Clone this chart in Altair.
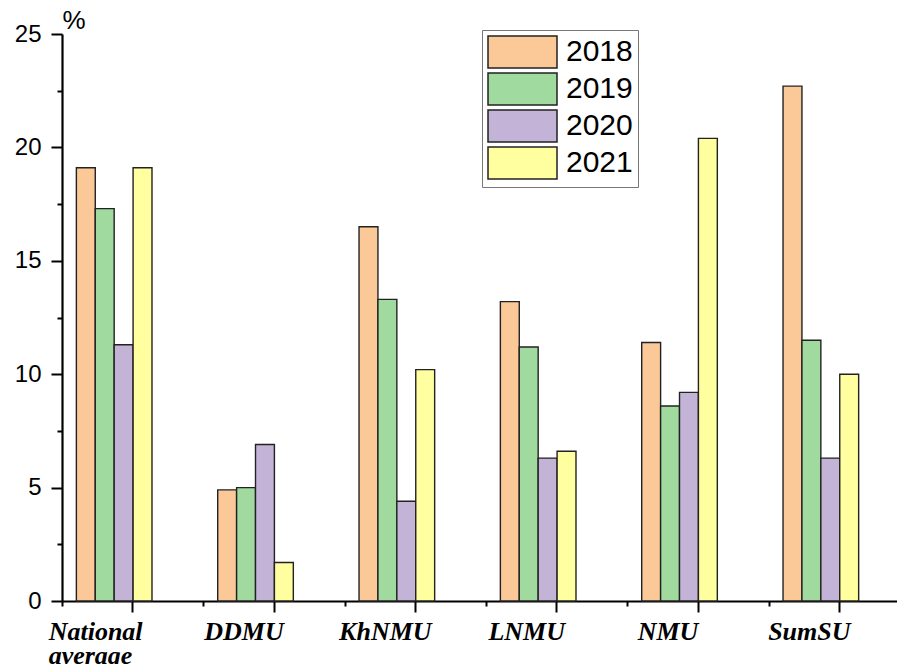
import altair as alt
import pandas as pd

categories = ["National average", "DDMU", "KhNMU", "LNMU", "NMU", "SumSU"]
years = ["2018", "2019", "2020", "2021"]
v2018 = [19.1, 4.9, 16.5, 13.2, 11.4, 22.7]
v2019 = [17.3, 5.0, 13.3, 11.2, 8.6, 11.5]
v2020 = [11.3, 6.9, 4.4, 6.3, 9.2, 6.3]
v2021 = [19.1, 1.7, 10.2, 6.6, 20.4, 10.0]
colors = ["#FBC898", "#A0DA9F", "#C3B3D7", "#FFFFA0"]
y_major = [0, 5, 10, 15, 20, 25]
y_minor = [2.5, 7.5, 12.5, 17.5, 22.5]
offset_slots = years + ["gap1", "gap2"]

rows = []
for yr, vals in zip(years, [v2018, v2019, v2020, v2021]):
    for c, v in zip(categories, vals):
        rows.append({"cat": c, "year": yr, "value": v})
df = pd.DataFrame(rows)

xscale = alt.Scale(domain=categories, range=[0, 848], paddingInner=0, paddingOuter=0)
offscale = alt.Scale(domain=offset_slots, paddingInner=0, paddingOuter=0.738, align=0.515)
yscale = alt.Scale(domain=[0, 25], nice=False)

label_expr = "datum.value == 'National average' ? ['National', 'average'] : datum.value"
is_nat = "datum.value == 'National average'"

bars = alt.Chart(df).mark_bar(stroke="#222222", strokeWidth=1.4).encode(
    x=alt.X("cat:N", sort=categories, scale=xscale, title=None,
            axis=alt.Axis(orient="bottom", labelAngle=0, labelFont="Liberation Serif",
                          labelFontStyle="italic", labelFontWeight="bold", labelFontSize=26,
                          labelColor="black", labelPadding=6,
                          labelOffset={"condition": {"test": is_nat, "value": -84}, "value": -30},
                          labelAlign={"condition": {"test": is_nat, "value": "left"}, "value": "center"},
                          labelLineHeight=24, labelExpr=label_expr,
                          tickSize=11, tickWidth=2, tickColor="black",
                          domainColor="black", domainWidth=2.2, grid=False)),
    xOffset=alt.XOffset("year:N", scale=offscale),
    y=alt.Y("value:Q", scale=yscale,
            axis=alt.Axis(orient="left", values=y_major, title="%", titleAngle=0,
                          titleX=0, titleY=-6, titleAlign="left", titleBaseline="alphabetic",
                          titleFont="Liberation Sans", titleFontSize=26, titleFontWeight="normal",
                          titleColor="black",
                          labelFont="Liberation Sans", labelFontSize=24, labelColor="black",
                          labelPadding=10, tickSize=11, tickWidth=2, tickColor="black",
                          domainColor="black", domainWidth=2.2, grid=False)),
    color=alt.Color("year:N", sort=years, scale=alt.Scale(domain=years, range=colors),
                    legend=alt.Legend(title=None, orient="none", legendX=420, legendY=-4,
                                      symbolType="M-1,-1H3.3125V1H-1Z", symbolSize=1024,
                                      symbolStrokeColor="#222", symbolStrokeWidth=1.5,
                                      symbolOpacity=1,
                                      labelFont="Liberation Sans", labelFontSize=30,
                                      labelColor="black", labelOffset=45,
                                      rowPadding=-1, padding=5,
                                      strokeColor="#777", fillColor="white")),
)

minor = alt.Chart(df).mark_bar(opacity=0).encode(
    x=alt.X("cat:N", sort=categories, scale=xscale, title=None,
            axis=alt.Axis(orient="bottom", labels=False, domain=False, tickBand="extent",
                          tickSize=5, tickWidth=2, tickColor="black", grid=False)),
    xOffset=alt.XOffset("year:N", scale=offscale),
    y=alt.Y("value:Q", scale=yscale,
            axis=alt.Axis(orient="left", values=y_minor, labels=False, domain=False,
                          title=None, tickSize=5, tickWidth=2, tickColor="black", grid=False)),
)

chart = alt.layer(bars, minor).resolve_axis(x="independent", y="independent").properties(
    width=830, height=567,
    autosize=alt.AutoSizeParams(type="none"),
    padding={"left": 54, "top": 26, "right": 5, "bottom": 63},
).configure_view(stroke=None)

chart.save("out.html", embed_options={"renderer": "svg", "actions": False})
